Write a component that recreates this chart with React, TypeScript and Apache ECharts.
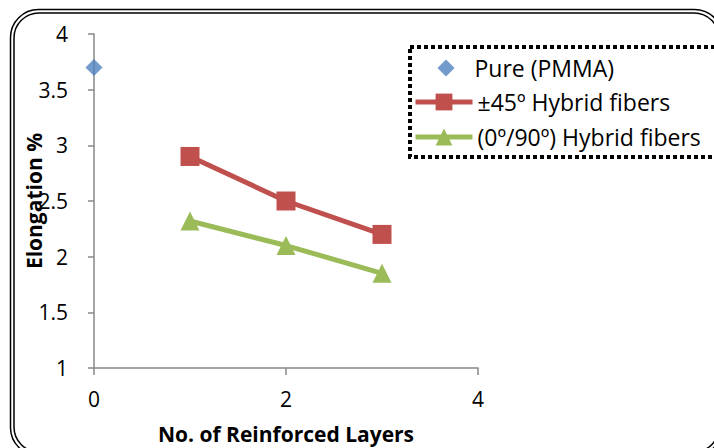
import React, { useEffect, useRef } from "react";
import * as echarts from "echarts";

const pureData: [number, number][] = [[0, 3.7]];
const hybrid45Data: [number, number][] = [[1, 2.9], [2, 2.5], [3, 2.2]];
const hybrid090Data: [number, number][] = [[1, 2.32], [2, 2.1], [3, 1.85]];
const seriesNames = ["Pure (PMMA)", "±45º Hybrid fibers", "(0º/90º) Hybrid fibers"];
const xTitle = "No. of Reinforced Layers";
const yTitle = "Elongation %";

const FONT = "Open Sans";
const legendText = { fontFamily: FONT, fontSize: 23, color: "#000" };

export default function App() {
  const ref = useRef<HTMLDivElement>(null);
  useEffect(() => {
    if (!ref.current) return;
    const chart = echarts.init(ref.current, undefined, { renderer: "svg" });
    chart.setOption({
      animation: false,
      backgroundColor: "#fff",
      textStyle: { fontFamily: FONT, color: "#000" },
      grid: { left: 94, right: 236, top: 34, bottom: 80, outerBoundsMode: "none", containLabel: false },
      xAxis: {
        type: "value",
        min: 0,
        max: 4,
        interval: 2,
        name: xTitle,
        nameLocation: "middle",
        nameGap: 55,
        nameMoveOverlap: false,
        nameTextStyle: { fontFamily: FONT, fontWeight: "bold", fontSize: 21, color: "#000" },
        axisLine: { show: true, lineStyle: { color: "#888", width: 1.5 } },
        axisTick: { show: true, length: 7, lineStyle: { color: "#888", width: 1.5 } },
        axisLabel: { fontFamily: FONT, fontSize: 21, color: "#000", margin: 20 },
        splitLine: { show: false },
      },
      yAxis: {
        type: "value",
        min: 1,
        max: 4,
        interval: 0.5,
        name: yTitle,
        nameLocation: "middle",
        nameGap: 50,
        nameMoveOverlap: false,
        nameTextStyle: { fontFamily: FONT, fontWeight: "bold", fontSize: 21, color: "#000" },
        axisLine: { show: true, lineStyle: { color: "#888", width: 1.5 } },
        axisTick: { show: true, length: 6, lineStyle: { color: "#888", width: 1.5 } },
        axisLabel: { fontFamily: FONT, fontSize: 21, color: "#000", margin: 26 },
        splitLine: { show: false },
      },
      legend: [
        {
          show: true,
          orient: "vertical",
          left: 432.5,
          top: 51.5,
          itemWidth: 17,
          itemHeight: 17,
          textStyle: { ...legendText, lineHeight: 17, padding: [0, 0, 0, 15] },
          data: [seriesNames[0]],
        },
        {
          show: true,
          orient: "vertical",
          left: 408,
          top: 85.5,
          itemWidth: 57,
          itemHeight: 21,
          itemGap: 12,
          textStyle: { ...legendText, lineHeight: 21 },
          lineStyle: { width: 5 },
          data: [seriesNames[1], seriesNames[2]],
        },
      ],
      graphic: [
        {
          type: "rect",
          shape: { x: 410, y: 47, width: 320, height: 110 },
          style: { fill: "none", stroke: "#000", lineWidth: 4, lineDash: [4, 3] },
          z: 100,
        },
        {
          type: "rect",
          shape: { x: 10.5, y: 9.5, width: 712, height: 446, r: 28 },
          style: { fill: "none", stroke: "#000", lineWidth: 1.5 },
        },
        {
          type: "rect",
          shape: { x: 14, y: 13, width: 705, height: 439, r: 25 },
          style: { fill: "none", stroke: "#000", lineWidth: 1.5 },
        },
      ],
      series: [
        {
          name: seriesNames[0],
          type: "scatter",
          data: pureData,
          symbol: "diamond",
          symbolSize: 17,
          itemStyle: { color: "#4F81BD" },
        },
        {
          name: seriesNames[1],
          type: "line",
          data: hybrid45Data,
          symbol: "rect",
          symbolSize: 19,
          lineStyle: { color: "#C0504D", width: 5 },
          itemStyle: { color: "#C0504D" },
        },
        {
          name: seriesNames[2],
          type: "line",
          data: hybrid090Data,
          symbol: "triangle",
          symbolSize: 19,
          lineStyle: { color: "#9BBB59", width: 5 },
          itemStyle: { color: "#9BBB59" },
        },
      ],
    });
    return () => chart.dispose();
  }, []);
  return <div ref={ref} style={{ width: 714, height: 448, position: "absolute", left: 0, top: 0 }} />;
}
